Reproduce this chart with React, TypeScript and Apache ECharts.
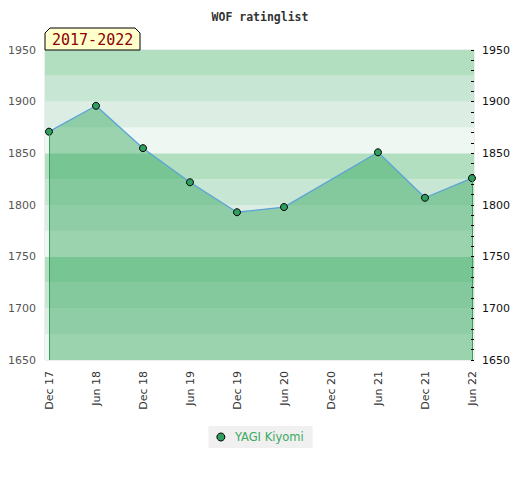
import React, { useEffect, useRef } from "react";
import * as echarts from "echarts";

const categories = ["Dec 17", "Jun 18", "Dec 18", "Jun 19", "Dec 19", "Jun 20", "Dec 20", "Jun 21", "Dec 21", "Jun 22"];
const ratings: (number | null)[] = [1871, 1896, 1855, 1822, 1793, 1798, null, 1851, 1807, 1826];
const seriesName = "YAGI Kiyomi";
const periodLabel = "2017-2022";
const titleText = "WOF ratinglist";
const yMin = 1650;
const yMax = 1950;
const bandColors = ["#eef7f1", "#dcede3", "#c8e6d4", "#b3dfc1"];

export default function App() {
  const ref = useRef<HTMLDivElement>(null);
  useEffect(() => {
    document.body.style.margin = "0";
    const chart = echarts.init(ref.current!, null, { renderer: "svg" });
    const firstIdx = ratings.findIndex((v) => v != null);
    let lastIdx = ratings.length - 1;
    while (ratings[lastIdx] == null) lastIdx--;
    chart.setOption({
      animation: false,
      backgroundColor: "#fff",
      title: {
        text: titleText,
        left: "center",
        top: 6,
        textStyle: { fontFamily: "DejaVu Sans Mono", fontWeight: "bold", fontSize: 11.5, color: "#333" },
      },
      graphic: [
        {
          type: "polygon",
          shape: { points: [[45, 50], [45, 33], [50, 28], [135, 28], [140, 33], [140, 50]] },
          style: { fill: "#ffffcc", stroke: "#000", lineWidth: 1 },
          z: 100,
        },
        {
          type: "text",
          x: 52,
          y: 40,
          style: { text: periodLabel, fill: "#8b0000", font: "15px 'DejaVu Sans Mono'", textVerticalAlign: "middle" },
          z: 101,
        },
      ],
      legend: {
        data: [{ name: seriesName, icon: "circle" }],
        top: 426,
        left: "center",
        backgroundColor: "#f0f0f0",
        padding: [5, 9, 5, 8],
        itemWidth: 8,
        itemHeight: 8,
        itemGap: 6,
        itemStyle: { color: "#2f9e5f", borderColor: "#000", borderWidth: 1 },
        textStyle: { color: "#3aaa5f", fontSize: 11.5, fontFamily: "DejaVu Sans", padding: [0, 0, 0, 5] },
      },
      grid: [
        { left: 45, top: 50, width: 429, height: 310, show: true, borderColor: "#ddd", borderWidth: 1, backgroundColor: "transparent" },
        { left: 49, top: 50, width: 423, height: 310 },
      ],
      xAxis: [
        { gridIndex: 0, type: "value", min: 0, max: 1, show: false },
        {
          gridIndex: 1,
          type: "category",
          data: categories,
          boundaryGap: false,
          axisLine: { show: false },
          axisTick: { show: false },
          axisLabel: { rotate: 90, color: "#333", fontSize: 11, fontFamily: "DejaVu Sans", margin: 11, interval: 0 },
        },
      ],
      yAxis: [
        {
          gridIndex: 0,
          type: "value",
          min: yMin,
          max: yMax,
          interval: 25,
          position: "left",
          axisLine: { show: false },
          axisTick: { show: false },
          splitLine: { show: false },
          splitArea: { show: true, areaStyle: { color: bandColors } },
          axisLabel: {
            color: "#555",
            fontSize: 11,
            fontFamily: "DejaVu Sans",
            margin: 9,
            formatter: (v: number) => (v % 50 === 0 ? String(v) : ""),
          },
        },
        {
          gridIndex: 0,
          type: "value",
          min: yMin,
          max: yMax,
          interval: 50,
          position: "right",
          z: 10,
          axisLine: { show: false },
          axisTick: { show: true, inside: true, length: 3, lineStyle: { color: "#000", width: 1 } },
          minorTick: { show: true, splitNumber: 5, length: 3, lineStyle: { color: "#000", width: 1 } },
          splitLine: { show: false },
          axisLabel: { color: "#111", fontSize: 11, fontFamily: "DejaVu Sans", margin: 8, formatter: (v: number) => String(v) },
        },
        { gridIndex: 1, type: "value", min: yMin, max: yMax, show: false },
      ],
      series: [
        {
          name: seriesName,
          type: "line",
          xAxisIndex: 1,
          yAxisIndex: 2,
          data: ratings,
          connectNulls: true,
          symbol: "circle",
          symbolSize: 7,
          itemStyle: { color: "#2f9e5f", borderColor: "#000", borderWidth: 1 },
          lineStyle: { color: "#5ba3d9", width: 1.3 },
          areaStyle: { color: "rgb(28,157,74)", opacity: 0.4, origin: "start" },
          z: 3,
          markLine: {
            silent: true,
            symbol: "none",
            label: { show: false },
            lineStyle: { color: "#3a9d5d", type: "solid", width: 1 },
            data: [
              [{ coord: [categories[firstIdx], ratings[firstIdx]] }, { coord: [categories[firstIdx], yMin] }],
              [{ coord: [categories[lastIdx], ratings[lastIdx]] }, { coord: [categories[lastIdx], yMin] }],
            ],
          },
        },
      ],
    });
    return () => chart.dispose();
  }, []);
  return <div ref={ref} style={{ width: 520, height: 480 }} />;
}
